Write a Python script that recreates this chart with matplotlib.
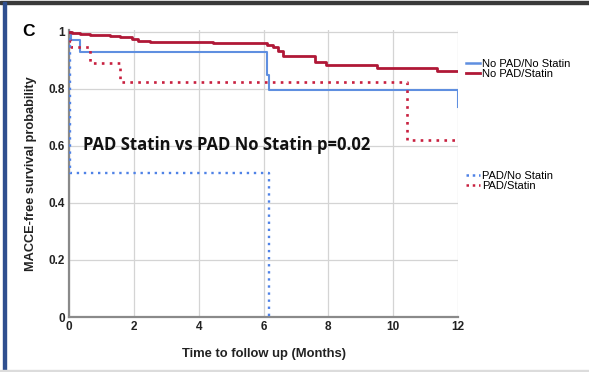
import numpy as np
import matplotlib
matplotlib.use("Agg")
import matplotlib.pyplot as plt
from matplotlib.lines import Line2D
from matplotlib.patches import Rectangle

# Kaplan-Meier step curves (time in months, survival)
t_nopad_nostatin = [0, 0.05, 0.35, 6.1, 6.17, 12.0, 12.0]
s_nopad_nostatin = [1.0, 0.972, 0.931, 0.849, 0.797, 0.797, 0.737]

t_nopad_statin = [0, 0.08, 0.34, 0.65, 1.26, 1.57, 1.93, 2.14, 2.5, 4.45,
                  5.5, 6.1, 6.3, 6.45, 6.6, 7.6, 7.93, 9.5, 11.35, 12.0]
s_nopad_statin = [1.0, 0.996, 0.993, 0.99, 0.985, 0.981, 0.977, 0.968, 0.965, 0.963,
                  0.96, 0.956, 0.948, 0.934, 0.915, 0.895, 0.884, 0.872, 0.863, 0.863]

t_pad_nostatin = [0, 0.02, 6.17, 6.17]
s_pad_nostatin = [1.0, 0.505, 0.0, 0.0]

t_pad_statin = [0, 0.02, 0.05, 0.65, 1.57, 10.44, 12.0]
s_pad_statin = [1.0, 0.97, 0.949, 0.89, 0.826, 0.621, 0.621]

x_ticks = [0, 2, 4, 6, 8, 10, 12]
y_ticks = [0, 0.2, 0.4, 0.6, 0.8, 1.0]
y_tick_labels = ["0", "0.2", "0.4", "0.6", "0.8", "1"]

red_dark = "#b01837"
red_dot = "#c8203f"
blue = "#5f8fe0"
blue_dot = "#4f82e6"

plt.rcParams["font.family"] = ["Liberation Sans", "DejaVu Sans"]

fig = plt.figure(figsize=(5.89, 3.72), dpi=100)
ax = fig.add_axes([69 / 589, 1 - 317 / 372, (458 - 69) / 589, (317 - 30) / 372])

ax.step(t_nopad_statin, s_nopad_statin, where="post", color=red_dark, lw=2.0, zorder=4)
ax.step(t_nopad_nostatin, s_nopad_nostatin, where="post", color=blue, lw=1.5, zorder=3)
ax.step(t_pad_statin, s_pad_statin, where="post", color=red_dot, lw=1.9,
        linestyle=(0, (1, 2)), zorder=3)
ax.step(t_pad_nostatin, s_pad_nostatin, where="post", color=blue_dot, lw=1.7,
        linestyle=(0, (1, 2)), zorder=3)

ax.set_xlim(0, 12)
ax.set_ylim(0, 1.007)
ax.set_xticks(x_ticks)
ax.set_yticks(y_ticks)
ax.set_yticklabels(y_tick_labels)
ax.grid(True, color="#d4d4d4", lw=0.9)
ax.set_axisbelow(True)
for side in ["top", "right"]:
    ax.spines[side].set_visible(False)
for side in ["left", "bottom"]:
    ax.spines[side].set_color("#8a8a8a")
    ax.spines[side].set_linewidth(1.6)
ax.tick_params(length=0, pad=3, labelsize=8.5, labelcolor="#222222")
for lbl in ax.get_xticklabels() + ax.get_yticklabels():
    lbl.set_fontweight("bold")

ax.set_xlabel("Time to follow up (Months)", fontsize=9.4, fontweight="bold", labelpad=11, color="#222222")
ax.set_ylabel("MACCE-free survival probability", fontsize=9.2, fontweight="bold", labelpad=8, color="#222222")

ax.text(0.43, 0.605, "PAD Statin vs PAD No Statin p=0.02", fontsize=12, fontweight="bold",
        family=["Open Sans", "DejaVu Sans"], va="center", ha="left", color="#111111")

fig.text(22 / 589, 1 - 31 / 372, "C", fontsize=12.5, fontweight="bold", va="center", ha="left")

# legends, two groups like the SPSS output
h1 = [Line2D([], [], color=blue, lw=1.8), Line2D([], [], color=red_dark, lw=2.0)]
leg1 = fig.legend(h1, ["No PAD/No Statin", "No PAD/Statin"], loc="upper left",
                  bbox_to_anchor=(460 / 589, 1 - 53 / 372), frameon=False, fontsize=8,
                  handlelength=1.3, handletextpad=0.15, labelspacing=0.02, borderpad=0)
h2 = [Line2D([], [], color=blue_dot, lw=1.8, linestyle=(0, (1, 1.5))),
      Line2D([], [], color=red_dot, lw=1.8, linestyle=(0, (1, 1.5)))]
leg2 = fig.legend(h2, ["PAD/No Statin", "PAD/Statin"], loc="upper left",
                  bbox_to_anchor=(460 / 589, 1 - 165 / 372), frameon=False, fontsize=8,
                  handlelength=1.3, handletextpad=0.15, labelspacing=0.02, borderpad=0)

# border of the cropped panel
fig.patches.append(Rectangle((0, 1 - 4 / 372), 1, 3 / 372, transform=fig.transFigure,
                             color="#3a3a3a", zorder=10))
fig.patches.append(Rectangle((3 / 589, 0), 2.5 / 589, 1 - 2 / 372, transform=fig.transFigure,
                             color="#2f4f8f", zorder=10))
fig.patches.append(Rectangle((0, 0), 1, 2 / 372, transform=fig.transFigure,
                             color="#dcdcdc", zorder=10))

fig.savefig("out.png", dpi=100)
